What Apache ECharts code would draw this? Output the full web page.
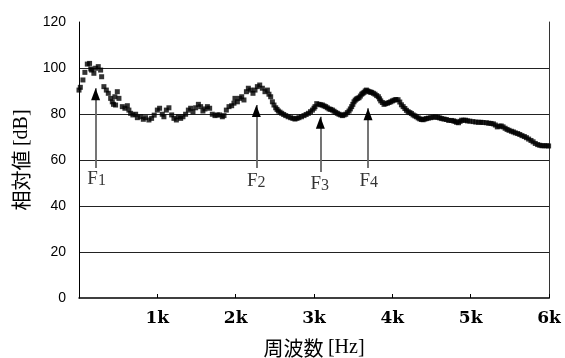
<!DOCTYPE html>
<html><head><meta charset="utf-8">
<script src="https://cdn.jsdelivr.net/npm/echarts@6/dist/echarts.min.js"></script>
<style>html,body{margin:0;padding:0;background:#fff}#c{width:565px;height:358px}</style>
</head><body><div id="c"></div>
<script>
// Spectrum readings [Hz, dB]
const freqHz = [0,17,50,75,106,135,150,161,190,212,246,276,289,318,349,374,404,425,440,458,467,489,510,553,586,617,637,659,688,723,745,787,821,850,893,927,960,
1000,1029,1063,1084,1115,1148,1183,1212,1243,1268,1298,1327,1361,1396,1425,1455,1489,1524,1553,1582,1608,1639,1668,1702,1736,1766,1796,1830,1851,1881,1915,1949,1978,1991,
2022,2051,2077,2106,2137,2162,2192,2221,2247,2277,2307,2341,2374,2405,2425,2447,2469,2489,2511,2528,2545,2566,2588,2613,2639,2670,2702,2730,2757,2783,2808,2840,2872,2900,2928,2955,2980,3000,3013,
3035,3064,3085,3107,3128,3149,3170,3192,3213,3235,3256,3277,3298,3319,3341,3363,3384,3405,3426,3447,3464,3481,3496,3511,3526,3541,3558,3575,3592,3609,3624,3639,3654,3669,3686,3703,3720,3737,3758,3779,3800,3822,3837,3852,3873,3894,3915,3937,3958,3980,4001,
4022,4045,4073,4095,4116,4138,4160,4180,4202,4224,4244,4265,4287,4307,4330,4350,4371,4393,4415,4435,4460,4490,4520,4550,4580,4605,4630,4660,4690,4720,4754,4780,4800,4820,4845,4865,4885,4910,4935,4960,4990,5030,5065,5100,5130,5160,5200,5230,5260,5290,5315,5340,5365,5390,5414,5440,5465,5490,5520,5545,5570,5600,5627,5655,5685,5712,5740,5770,5797,5825,5855,5882,5910,5940,5968,5995];
const levelDb = [90.4,91.6,94.8,98.1,101.7,102,99.6,99.1,97.7,99.9,100.6,99.1,96.2,91.9,90.4,89,86.8,85.3,84.2,87.5,83.9,89.7,86.8,83.2,82.5,83.6,81.7,80.3,79.6,79.9,78.4,78.8,77.7,78.4,77.4,78.1,79.5,
81.7,82.5,79.9,78.8,81.7,82.7,79.6,78.1,77.4,78.8,78.1,78.8,79.9,81.7,82.5,81,82.7,84.2,83.2,81.3,82.2,83.2,82.5,79.9,79.3,79.6,79.6,78.8,79.3,81.7,83.2,83.6,84.7,86.8,
85.3,86.8,87.5,86.1,89.7,91.2,90.4,89,90.4,91.9,92.6,91.2,89.7,90.4,88.6,87.5,85.3,83.9,82.7,82,81.3,80.8,80.3,79.8,79.3,78.8,78.4,78.1,77.8,78.1,78.4,78.8,79.3,79.8,80.3,81,81.7,82.5,83.2,
84.5,84.2,84,83.9,83.5,83.2,82.7,82.2,82,81.7,81.2,80.7,80.3,79.9,79.6,79.3,79.6,79.9,80.6,81.3,82.2,83.2,84.2,85.3,86,86.5,86.8,87.1,87.8,88.6,89,89.4,90,90.4,90,89.7,89.5,89.4,89,88.6,88,87.5,86.6,85.7,85,84.2,84.5,84.7,85,85.3,85.7,
86,86.3,86.2,85.2,84,83.2,82.4,81.6,81,80.6,80.2,79.6,79.2,78.8,78.3,77.9,77.6,77.5,77.8,78,78.2,78.4,78.6,78.7,78.5,78.3,78,77.8,77.6,77.2,77.2,77,76.8,76.4,76.2,76.8,77.3,77.3,77.3,77,76.9,76.7,76.5,76.4,76.4,76.3,76.2,76,75.9,75.7,75.2,74.4,74.7,74.8,74.4,73.8,73.3,72.9,72.5,72.2,71.8,71.5,71.1,70.6,70.2,69.7,69.1,68.5,67.9,67.2,66.7,66.4,66.2,66.2,66.2,66.1];

// Formant annotations
const formantIdx = ['1','2','3','4'];
const arrowFreq = [212, 2264, 3081, 3690];
const arrowBase = [56.5, 56.5, 54.8, 56.5];
const arrowTip = [91.2, 83.9, 78.8, 82.5];
const labelFreq = [225, 2262, 3073, 3699];
const labelDb = [51.7, 50.9, 49.6, 50.7];

const yTicks = {min: 0, max: 120, interval: 20};
const xTicks = {min: 0, max: 6000, interval: 1000};

const chart = echarts.init(document.getElementById('c'), null, {renderer: 'canvas'});
const points = freqHz.map((f, i) => [f, levelDb[i]]);
const headW = 9, headH = 12;
const arrowLines = arrowFreq.map((f, i) => [
  {coord: [f, arrowBase[i]]},
  {coord: [f, arrowTip[i]]}
]);
const arrowHeads = arrowFreq.map((f, i) => ({coord: [f, arrowTip[i]]}));
const labelPts = labelFreq.map((f, i) => ({value: [f, labelDb[i]], idx: formantIdx[i]}));

chart.setOption({
  animation: false,
  backgroundColor: '#fff',
  grid: {left: 79, right: 16, top: 22, bottom: 60, containLabel: false, outerBoundsMode: 'none'},
  xAxis: {
    type: 'value', min: xTicks.min, max: xTicks.max, interval: xTicks.interval,
    name: '{a|周波数 }{b|[Hz]}', nameLocation: 'middle', nameGap: 40,
    nameTextStyle: {rich: {
      a: {fontFamily: 'Noto Sans CJK JP', fontSize: 20, color: '#000'},
      b: {fontFamily: 'Liberation Serif', fontSize: 20, color: '#000'}
    }},
    axisLine: {show: true, lineStyle: {color: '#000', width: 1.5}},
    axisTick: {show: true, inside: true, length: 4, lineStyle: {color: '#000', width: 1}},
    axisLabel: {
      formatter: v => v === 0 ? '' : (v / 1000) + 'k',
      fontFamily: 'DejaVu Serif', fontWeight: 'bold', fontSize: 17, color: '#000', margin: 12,
      showMaxLabel: true
    },
    splitLine: {show: false}
  },
  yAxis: [{
    type: 'value', min: yTicks.min, max: yTicks.max, interval: yTicks.interval,
    name: '{a|相対値 }{b|[dB]}', nameLocation: 'middle', nameGap: 45, nameRotate: 90,
    nameTextStyle: {rich: {
      a: {fontFamily: 'Noto Sans CJK JP', fontSize: 20, color: '#000'},
      b: {fontFamily: 'Liberation Serif', fontSize: 20, color: '#000'}
    }},
    axisLine: {show: true, lineStyle: {color: '#000', width: 1}},
    axisTick: {show: false},
    axisLabel: {fontFamily: 'Liberation Sans', fontSize: 14, color: '#000', margin: 13},
    splitLine: {show: true, showMinLine: false, showMaxLine: false, lineStyle: {color: '#222', width: 1}}
  }, {
    type: 'value', position: 'right', min: yTicks.min, max: yTicks.max, interval: yTicks.interval,
    axisLine: {show: true, lineStyle: {color: '#333', width: 1}},
    axisTick: {show: false}, axisLabel: {show: false}, splitLine: {show: false}
  }],
  series: [{
    type: 'scatter', data: points, symbol: 'rect', symbolSize: 5,
    itemStyle: {color: '#000'}, silent: true,
    markLine: {
      silent: true, symbol: ['none', 'none'],
      label: {show: false},
      lineStyle: {color: '#666', width: 1.8, type: 'solid'},
      data: arrowLines
    },
    markPoint: {
      silent: true, symbol: 'triangle', symbolSize: [headW, headH],
      symbolOffset: [0, headH / 2],
      itemStyle: {color: '#000'}, label: {show: false},
      data: arrowHeads
    }
  }, {
    type: 'scatter', data: labelPts, symbolSize: 0, silent: true,
    label: {
      show: true, position: 'inside',
      formatter: p => '{f|F}{n|' + p.data.idx + '}',
      rich: {
        f: {fontFamily: 'Liberation Serif', fontSize: 19, color: '#000', verticalAlign: 'bottom'},
        n: {fontFamily: 'Liberation Serif', fontSize: 16, color: '#000', verticalAlign: 'bottom'}
      }
    }
  }]
});
</script></body></html>
